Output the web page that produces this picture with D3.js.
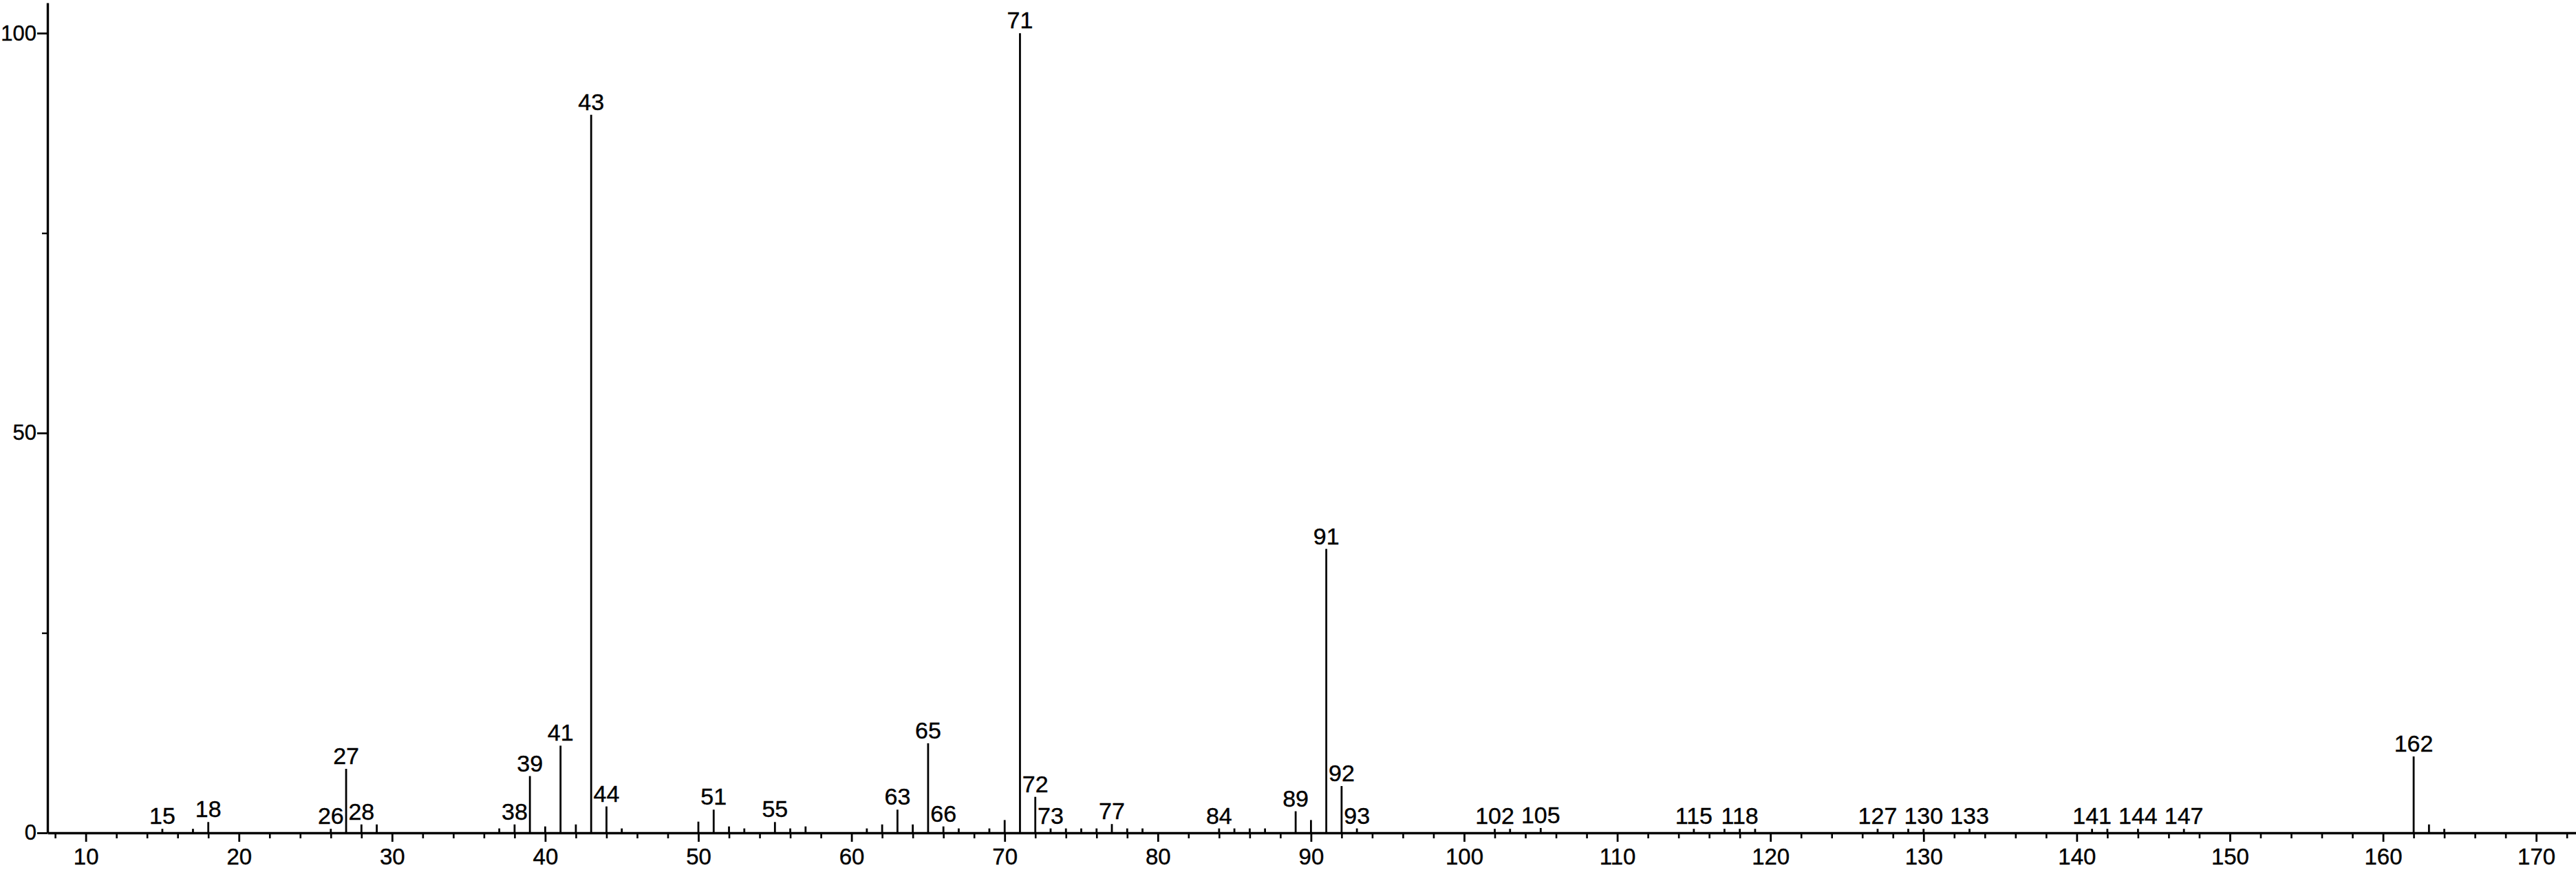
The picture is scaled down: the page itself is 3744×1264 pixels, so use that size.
<!DOCTYPE html>
<html>
<head>
<meta charset="utf-8">
<script src="https://cdn.jsdelivr.net/npm/d3@7/dist/d3.min.js"></script>
<style>
  body { margin: 0; background: #fff; }
  svg text { font-family: "Liberation Sans", Arial, sans-serif; fill: #000; stroke: #000; stroke-width: 0.4px; }
</style>
</head>
<body>
<div id="chart"></div>
<script>
// m/z of every peak and its relative intensity (%)
const mzValues = [
  15, 17, 18, 26, 27, 28, 29, 37, 38, 39, 40, 41, 42, 43, 44, 45,
  50, 51, 52, 53, 55, 56, 57, 61, 62, 63, 64, 65, 66, 67, 69, 70,
  71, 72, 73, 74, 75, 76, 77, 78, 79, 84, 85, 86, 87, 89, 90, 91,
  92, 93, 102, 103, 105, 115, 117, 118, 119, 127, 129, 130, 133,
  141, 142, 144, 147, 162, 163, 164
];
const intensities = [
  0.5, 0.5, 1.35, 0.5, 8.0, 1.05, 1.05, 0.55, 1.05, 7.1, 0.8, 10.9, 1.05, 89.8, 3.3, 0.55,
  1.4, 2.9, 0.8, 0.55, 1.35, 0.55, 0.8, 0.55, 1.05, 2.9, 1.05, 11.2, 0.8, 0.55, 0.55, 1.6,
  100, 4.5, 0.55, 0.55, 0.55, 0.55, 1.1, 0.55, 0.55, 0.55, 0.55, 0.55, 0.55, 2.7, 1.6, 35.5,
  5.85, 0.55, 0.5, 0.5, 0.6, 0.5, 0.5, 0.5, 0.5, 0.5, 0.5, 0.5, 0.5,
  0.5, 0.5, 0.5, 0.5, 9.55, 1.05, 0.5
];
// peaks that carry a m/z label
const labelledPeaks = [
  15, 18, 26, 27, 28, 38, 39, 41, 43, 44, 51, 55, 63, 65, 66, 71, 72, 73,
  77, 84, 89, 91, 92, 93, 102, 105, 115, 118, 127, 130, 133, 141, 144, 147, 162
];
const xMajorTicks = d3.range(10, 171, 10);
const xMinorTicks = d3.range(8, 173, 2).filter(d => d % 10 !== 0);
const yMajorTicks = [0, 50, 100];
const yMinorTicks = [25, 75];

const width = 3744;
const height = 1264;

const svg = d3
  .select("#chart")
  .append("svg")
  .attr("width", width)
  .attr("height", height);

const x = d3.scaleLinear().domain([7.5, 172.6]).range([69, 3744]);
const y = d3.scaleLinear().domain([0, 103.8]).range([1210, 4]);

const peaks = mzValues.map((mz, i) => ({ mz: mz, value: intensities[i] }));

// minor x ticks (no labels)
svg
  .append("g")
  .attr("transform", `translate(0,${y(0)})`)
  .call(d3.axisBottom(x).tickValues(xMinorTicks).tickSize(8).tickFormat(""))
  .call(g => g.select(".domain").remove())
  .call(g => g.selectAll("line").attr("stroke", "#000").attr("stroke-width", 2.6));

// major x ticks
const xAxis = svg
  .append("g")
  .attr("transform", `translate(0,${y(0)})`)
  .call(
    d3.axisBottom(x).tickValues(xMajorTicks).tickSize(13).tickSizeOuter(0).tickPadding(10)
  );
xAxis.select(".domain").attr("stroke", "#000").attr("stroke-width", 3.4);
xAxis.selectAll("line").attr("stroke", "#000").attr("stroke-width", 2.8);
xAxis
  .selectAll("text")
  .style("font-size", "33px")
  .style("font-family", '"Liberation Sans", Arial, sans-serif')
  .attr("fill", "#000");

// y axis
const yAxis = svg
  .append("g")
  .attr("transform", `translate(${x.range()[0]},0)`)
  .call(d3.axisLeft(y).tickValues(yMajorTicks).tickSize(15).tickSizeOuter(0).tickPadding(1));
yAxis.select(".domain").attr("stroke", "#000").attr("stroke-width", 3.4);
yAxis.selectAll("line").attr("stroke", "#000").attr("stroke-width", 2.8);
yAxis
  .selectAll("text")
  .style("font-size", "31px")
  .style("font-family", '"Liberation Sans", Arial, sans-serif')
  .attr("fill", "#000");

svg
  .append("g")
  .attr("transform", `translate(${x.range()[0]},0)`)
  .call(d3.axisLeft(y).tickValues(yMinorTicks).tickSize(8).tickFormat(""))
  .call(g => g.select(".domain").remove())
  .call(g => g.selectAll("line").attr("stroke", "#000").attr("stroke-width", 2.4));

// peaks
svg
  .append("g")
  .selectAll("line")
  .data(peaks)
  .join("line")
  .attr("x1", d => x(d.mz))
  .attr("x2", d => x(d.mz))
  .attr("y1", y(0))
  .attr("y2", d => y(d.value))
  .attr("stroke", "#000")
  .attr("stroke-width", 2.8);

// peak labels
svg
  .append("g")
  .selectAll("text")
  .data(peaks.filter(d => labelledPeaks.includes(d.mz)))
  .join("text")
  .attr("x", d => x(d.mz))
  .attr("y", d => Math.max(y(d.value) - 7, 36))
  .attr("text-anchor", "middle")
  .style("font-size", "34px")
  .text(d => d.mz);
</script>
</body>
</html>
